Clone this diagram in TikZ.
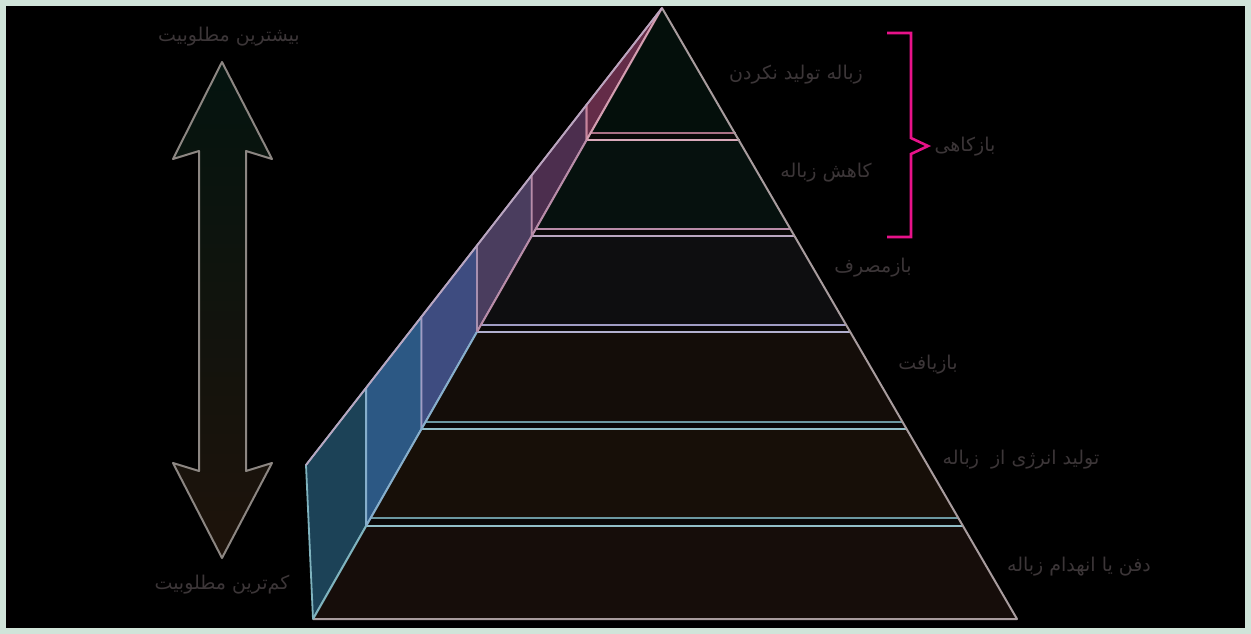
\documentclass[tikz,border=0pt]{standalone}
\usepackage{fontspec}
\newfontfamily\fa[Script=Arabic]{DejaVu Sans}
\TeXXeTstate=1
\definecolor{frm}{HTML}{D0E4D9}
\definecolor{txt}{HTML}{3C3638}
\definecolor{pA}{HTML}{1C4257}
\definecolor{pB}{HTML}{2C5884}
\definecolor{pC}{HTML}{3E4C80}
\definecolor{pD}{HTML}{4A3D5E}
\definecolor{pE}{HTML}{4C2E4E}
\definecolor{pF}{HTML}{642C48}
\definecolor{eA}{HTML}{7FB3BE}
\definecolor{eB}{HTML}{86AECB}
\definecolor{eC}{HTML}{A09CC4}
\definecolor{eD}{HTML}{A890B0}
\definecolor{eE}{HTML}{B88CA8}
\definecolor{eF}{HTML}{C8849C}
\definecolor{lay1}{HTML}{040F0B}
\definecolor{lay2}{HTML}{06110E}
\definecolor{lay3}{HTML}{0E0E10}
\definecolor{lay4}{HTML}{140D09}
\definecolor{lay5}{HTML}{170F08}
\definecolor{lay6}{HTML}{160D0A}
\definecolor{strip}{HTML}{0A0808}
\definecolor{edge}{HTML}{A89C9E}
\definecolor{brc}{HTML}{E8128A}
\definecolor{arrtop}{HTML}{04140F}
\definecolor{arrbot}{HTML}{1E130B}
\definecolor{arredge}{HTML}{8C8682}
\tikzset{
  lbl/.style={text=txt, font=\fa\fontsize{19}{22}\selectfont, inner sep=0pt},
  panel/.style={line width=1.8pt, line join=round},
  bandline/.style={line width=2pt},
  outline/.style={draw=edge, line width=2pt, line join=round},
}
\begin{document}
\begin{tikzpicture}[x=1pt,y=-1pt]
\useasboundingbox (0,0) rectangle (1251,634);
\fill[frm] (0,0) rectangle (1251,634);
\fill[black] (6,6) rectangle (1245,628);

% side panels
\filldraw[panel, fill=pA, draw=eA] (313,619) -- (306,465) -- (366.1,387.8) -- (366.1,526) -- cycle;
\filldraw[panel, fill=pB, draw=eB] (366.1,526) -- (366.1,387.8) -- (421.5,316.7) -- (421.5,429) -- cycle;
\filldraw[panel, fill=pC, draw=eC] (421.5,429) -- (421.5,316.7) -- (476.9,245.6) -- (476.9,332) -- cycle;
\filldraw[panel, fill=pD, draw=eD] (476.9,332) -- (476.9,245.6) -- (531.8,175.1) -- (531.8,236) -- cycle;
\filldraw[panel, fill=pE, draw=eE] (531.8,236) -- (531.8,175.1) -- (586.6,104.7) -- (586.6,140) -- cycle;
\filldraw[panel, fill=pF, draw=eF] (586.6,140) -- (586.6,104.7) -- (662,8) -- cycle;

% front layers
\fill[lay1] (662,8) -- (735.5,133) -- (590.6,133) -- cycle;
\fill[lay2] (586.6,140) -- (739.6,140) -- (791.1,229) -- (535.8,229) -- cycle;
\fill[lay3] (531.8,236) -- (795.2,236) -- (846.7,325) -- (480.9,325) -- cycle;
\fill[lay4] (476.9,332) -- (850.8,332) -- (902.9,422) -- (425.5,422) -- cycle;
\fill[lay5] (421.5,429) -- (907.0,429) -- (958.5,518) -- (370.7,518) -- cycle;
\fill[lay6] (366.1,526) -- (963.1,526) -- (1017,619) -- (313,619) -- cycle;

% strips
\fill[strip] (590.6,133) -- (735.5,133) -- (739.6,140) -- (586.6,140) -- cycle;
\fill[strip] (535.8,229) -- (791.1,229) -- (795.2,236) -- (531.8,236) -- cycle;
\fill[strip] (480.9,325) -- (846.7,325) -- (850.8,332) -- (476.9,332) -- cycle;
\fill[strip] (425.5,422) -- (902.9,422) -- (907.0,429) -- (421.5,429) -- cycle;
\fill[strip] (370.7,518) -- (958.5,518) -- (963.1,526) -- (366.1,526) -- cycle;

% band lines
\draw[bandline, draw=eF!85!black] (590.6,133) -- (735.5,133);
\draw[bandline, draw=eF!70!white] (586.6,140) -- (739.6,140);
\draw[bandline, draw=eE] (535.8,229) -- (791.1,229);
\draw[bandline, draw=eD!80!white] (531.8,236) -- (795.2,236);
\draw[bandline, draw=eC] (480.9,325) -- (846.7,325);
\draw[bandline, draw=eC!80!white] (476.9,332) -- (850.8,332);
\draw[bandline, draw=eA!85!black] (425.5,422) -- (902.9,422);
\draw[bandline, draw=eA!85!white] (421.5,429) -- (907.0,429);
\draw[bandline, draw=eA!85!black] (370.7,518) -- (958.5,518);
\draw[bandline, draw=eA!85!white] (366.1,526) -- (963.1,526);

% outline of front face
\draw[outline] (313,619) -- (1017,619) -- (662,8);
\draw[line width=2pt, draw=eF!80!white] (662,8) -- (586.6,140);
\draw[line width=2pt, draw=eE] (586.6,140) -- (476.9,332);
\draw[line width=2pt, draw=eB] (476.9,332) -- (366.1,526);
\draw[line width=2pt, draw=eA] (366.1,526) -- (313,619);
\draw[line width=1.8pt, draw=eD!80!white, line cap=round] (306,465) -- (662,8);

% double arrow
\shadedraw[top color=arrtop, bottom color=arrbot, draw=arredge, line width=2pt, line join=round]
  (222,62) -- (272,159) -- (246,151) -- (246,471) -- (272,463) -- (222,558)
  -- (173,463) -- (199,471) -- (199,151) -- (173,159) -- cycle;

% brace
\draw[brc, line width=2.6pt, line join=miter] (887,33) -- (911,33) -- (911,138) -- (928,146) -- (911,154) -- (911,237) -- (887,237);

% labels
\node[lbl] (most) at (229,37) {\beginR بیشترین مطلوبیت\endR};
\node[lbl] (least) at (222,585) {\beginR کم‌ترین مطلوبیت\endR};
\node[lbl] (l1) at (796,75) {\beginR زباله تولید نکردن\endR};
\node[lbl] (l2) at (826,173) {\beginR کاهش زباله\endR};
\node[lbl] (grp) at (965,147) {\beginR بازکاهی\endR};
\node[lbl] (l3) at (873,268) {\beginR بازمصرف\endR};
\node[lbl] (l4) at (928,365) {\beginR بازیافت\endR};
\node[lbl] (l5) at (1021,460) {\beginR تولید انرژی از~~زباله\endR};
\node[lbl] (l6) at (1079,567) {\beginR دفن یا انهدام زباله\endR};
\end{tikzpicture}
\end{document}
